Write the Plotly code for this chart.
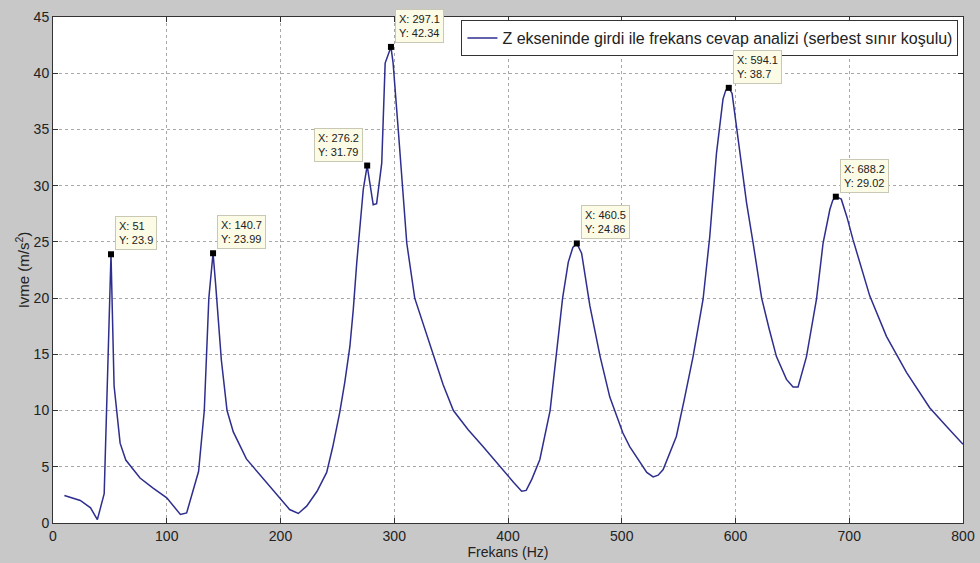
import plotly.graph_objects as go

# Frequency response data
freq = [10, 24, 33, 39, 45, 51, 53.7, 59, 64, 76.5, 88, 100, 112, 117.5, 128, 133, 137,
        140.7, 143, 148, 153, 158.5, 170, 176, 185, 200, 208, 215.7, 223, 232, 240.6, 246,
        252, 256.5, 261, 264, 267, 272.8, 276.2, 281.5, 284.5, 289, 292, 297.1, 299,
        303.5, 311, 318, 334, 343, 352, 365, 378, 393, 405, 412, 416, 421, 428, 437,
        442.5, 448, 453, 457, 460.5, 464.7, 472, 481, 489.5, 501, 507, 516, 522, 527.6,
        532, 536.4, 548, 555, 562.7, 571.5, 577.4, 583.3, 589, 591.5, 594.1, 597, 601,
        609.7, 615.5, 623, 629.5, 636, 644.8, 650.6, 655, 662.4, 671.2, 677, 683, 685.5,
        688.2, 693, 698, 703.3, 718, 732.7, 750.3, 770.7, 785.4, 800]
accel = [2.45, 2.0, 1.35, 0.3, 2.6, 23.9, 12.2, 7.1, 5.6, 4.0, 3.1, 2.24, 0.76, 0.9, 4.6, 10, 20,
         23.99, 21.2, 14.5, 10, 8.1, 5.7, 5.0, 3.9, 2.1, 1.2, 0.85, 1.5, 2.8, 4.5, 6.8,
         9.8, 12.5, 15.7, 19, 23.1, 29.7, 31.79, 28.3, 28.4, 32, 40.9, 42.34, 40.9,
         35, 24.9, 20, 15, 12.3, 10, 8.3, 6.8, 5, 3.6, 2.83, 2.9, 3.9, 5.65, 10,
         15, 20, 23.2, 24.5, 24.86, 24.0, 19.3, 14.8, 11.2, 8.0, 6.8, 5.36, 4.5, 4.1,
         4.25, 4.76, 7.7, 11, 14.8, 19.9, 25.5, 32.9, 37.7, 38.5, 38.7, 38.2, 35,
         28.5, 24.9, 20, 17.3, 14.8, 12.77, 12.1, 12.1, 14.8, 19.9, 24.9, 27.9, 28.7,
         29.02, 28.8, 27.2, 25.2, 20.2, 16.6, 13.4, 10.25, 8.6, 7.0]

# Data tips
tip_x = [51, 140.7, 276.2, 297.1, 460.5, 594.1, 688.2]
tip_y = [23.9, 23.99, 31.79, 42.34, 24.86, 38.7, 29.02]
tip_x_text = ["51", "140.7", "276.2", "297.1", "460.5", "594.1", "688.2"]
tip_y_text = ["23.9", "23.99", "31.79", "42.34", "24.86", "38.7", "29.02"]
tip_side = ["right", "right", "left", "right", "right", "right", "right"]

x_ticks = [0, 100, 200, 300, 400, 500, 600, 700, 800]
y_ticks = [0, 5, 10, 15, 20, 25, 30, 35, 40, 45]

legend_name = "Z ekseninde girdi ile frekans cevap analizi (serbest sınır koşulu)"
FONT = "Liberation Sans, Arial, sans-serif"

fig = go.Figure()
fig.add_trace(go.Scatter(
    x=freq, y=accel, mode="lines", name=legend_name,
    line=dict(color="#2e2e8e", width=1.5),
))
fig.add_trace(go.Scatter(
    x=tip_x, y=tip_y, mode="markers", showlegend=False,
    marker=dict(symbol="square", size=6, color="black"),
))

for xv, yv, xt, yt, side in zip(tip_x, tip_y, tip_x_text, tip_y_text, tip_side):
    fig.add_annotation(
        x=xv, y=yv, xref="x", yref="y",
        text=f"X: {xt}<br>Y: {yt}",
        showarrow=False, align="left",
        xanchor="left" if side == "right" else "right",
        yanchor="bottom",
        xshift=4 if side == "right" else -4, yshift=4,
        bgcolor="#fbfbe6", bordercolor="#c8c8b4", borderwidth=1, borderpad=3,
        font=dict(family=FONT, size=11, color="#222"),
    )

axis_common = dict(
    showline=True, linecolor="#333333", linewidth=1, mirror="allticks",
    ticks="inside", ticklen=5, tickcolor="#333333",
    showgrid=True, gridcolor="#a8a8a8", griddash="dot", gridwidth=1,
    zeroline=False, automargin=False,
    tickfont=dict(family=FONT, size=14, color="#222"),
)

fig.update_xaxes(range=[0, 800], tickvals=x_ticks,
                 title=dict(text="Frekans (Hz)", standoff=2,
                            font=dict(family=FONT, size=14, color="#222")),
                 **axis_common)
fig.update_yaxes(range=[0, 45], tickvals=y_ticks,
                 title=dict(text="Ivme (m/s<sup>2</sup>)", standoff=0,
                            font=dict(family=FONT, size=15, color="#222")),
                 **axis_common)

fig.update_layout(
    width=980, height=563,
    margin=dict(l=53, r=17, t=17, b=40),
    paper_bgcolor="#c8c8c8", plot_bgcolor="white",
    font=dict(family=FONT, color="#222"),
    legend=dict(
        x=0.995, y=0.994, xanchor="right", yanchor="top",
        bgcolor="white", bordercolor="#333333", borderwidth=1,
        font=dict(size=16, color="#222"),
        itemwidth=30,
    ),
    showlegend=True,
)

fig.write_html(
    "out.html",
    config={"displayModeBar": False},
    post_script="document.body.style.margin='0px';document.body.style.overflow='hidden';"
                "document.body.style.background='#c8c8c8';",
)
